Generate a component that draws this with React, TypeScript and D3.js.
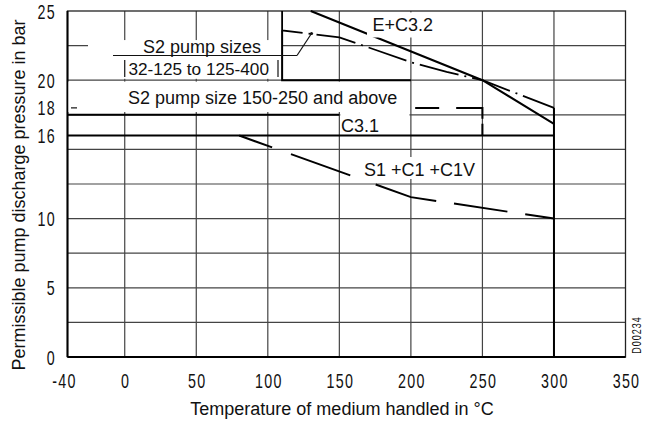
import React from "react";
import * as d3 from "d3";

// values
const xTicks = [-40, 0, 50, 100, 150, 200, 250, 300, 350];
const yTicks = [0, 5, 10, 16, 18, 20, 25];
const gridX = [0, 50, 100, 150, 200, 250, 300];
const gridY = [2.5, 5, 7.5, 10, 12.5, 15, 17.5, 20, 22.5];

const eC32 = [[130, 25], [250, 20], [300, 16.85]];
const s2SmallDashDot = [[110, 25], [110, 23.6], [150, 23.1], [175, 22.2], [200, 21.3], [225, 20.6], [250, 20], [300, 18]];
const s2SmallSolid = [[110, 23.6], [110, 20], [200, 20]];
const s2LargeSolid = [[-40, 17.5], [150, 17.5]];
const s2LargeDashed = [[203, 18], [250, 18], [250, 16]];
const c31 = [[-40, 16], [300, 16]];
const limit300 = [[300, 18], [300, 0]];
const s1C1 = [[80, 16], [200, 11.55], [300, 10]];

const W = 656;
const H = 430;
const FONT = "'Liberation Sans', Arial, sans-serif";

const x = d3.scaleLinear().domain([-40, 350]).range([67.5, 625.5]);
const y = d3.scaleLinear().domain([0, 25]).range([357, 11]);
const line = d3.line<number[]>().x((d) => x(d[0])).y((d) => y(d[1]));

function Cond({ px, py, text, anchor, size = 21, sx = 0.68, ls = 1.9, rotate = 0 }: any) {
  return (
    <text
      transform={`translate(${px},${py}) rotate(${rotate}) scale(${sx},1)`}
      textAnchor={anchor}
      fontSize={size}
      letterSpacing={ls}
      fontFamily={FONT}
      fill="#111"
    >
      {text}
    </text>
  );
}

export default function App() {
  const label = { fontFamily: FONT, fontSize: 18, fill: "#111" };
  return (
    <svg width={W} height={H} style={{ position: "absolute", left: 0, top: 0, background: "#fff" }}>
      {/* grid */}
      {gridX.map((v) => (
        <line key={"gx" + v} x1={x(v)} x2={x(v)} y1={y(0)} y2={y(25)} stroke="#444" strokeWidth={1.2} />
      ))}
      {gridY.map((v) => (
        <line key={"gy" + v} x1={x(-40)} x2={x(350)} y1={y(v)} y2={y(v)} stroke="#444" strokeWidth={1.2} />
      ))}
      {/* frame */}
      <rect x={x(-40)} y={y(25)} width={x(350) - x(-40)} height={y(0) - y(25)} fill="none" stroke="#222" strokeWidth={1.3} />
      <line x1={x(-40)} x2={x(-40)} y1={y(0)} y2={y(25)} stroke="#000" strokeWidth={2} />
      <line x1={x(-40)} x2={x(350)} y1={y(0)} y2={y(0)} stroke="#000" strokeWidth={2} />

      {/* white label backgrounds hiding the grid */}
      <rect x={88} y={y(22.9)} width={194} height={y(20.1) - y(22.9)} fill="#fff" />
      <rect x={x(-40) + 1} y={y(19.9)} width={x(199) - x(-40) - 1} height={y(17.7) - y(19.9)} fill="#fff" />
      <rect x={x(150) + 1} y={y(17.75)} width={x(199) - x(150) - 1} height={y(16.1) - y(17.75)} fill="#fff" />
      <rect x={362} y={157} width={117} height={22} fill="#fff" />

      {/* curves */}
      <path d={line(c31)!} fill="none" stroke="#000" strokeWidth={2} />
      <path d={line(limit300)!} fill="none" stroke="#000" strokeWidth={2} />
      <path d={line(s2LargeSolid)!} fill="none" stroke="#000" strokeWidth={2} />
      <path d={line(s2LargeDashed)!} fill="none" stroke="#000" strokeWidth={2} strokeDasharray="24 17 37 5 30" />
      <path d={line(s2SmallSolid)!} fill="none" stroke="#000" strokeWidth={2} />
      <path d={line(s2SmallDashDot)!} fill="none" stroke="#000" strokeWidth={1.8} strokeDasharray="40 6 2 6" />
      <path d={line(eC32)!} fill="none" stroke="#000" strokeWidth={2} />
      <path d={line(s1C1)!} fill="none" stroke="#000" strokeWidth={2} strokeDasharray="35 20 63 27 63 18 54 18 40" />

      {/* labels */}
      <rect x={367} y={y(24.9)} width={70} height={37.5 - y(24.9)} fill="#fff" />
      <text x={372.5} y={31} {...label}>E+C3.2</text>

      <text x={143} y={53} {...label}>S2 pump sizes</text>
      <line x1={113} x2={297} y1={55.5} y2={55.5} stroke="#111" strokeWidth={1.2} />
      <line x1={297} x2={311.5} y1={55.5} y2={33.5} stroke="#111" strokeWidth={1.2} />
      <circle cx={311.5} cy={33.5} r={1.6} fill="#111" />
      <text x={128.5} y={75} {...label} fontSize={17.2}>32-125 to 125-400</text>
      <line x1={x(0)} x2={x(0)} y1={60} y2={77} stroke="#111" strokeWidth={1.2} />
      <line x1={278} x2={278} y1={60} y2={77} stroke="#111" strokeWidth={1.2} />

      <text x={128} y={104} {...label}>S2 pump size 150-250 and above</text>
      <line x1={71} x2={77} y1={y(18)} y2={y(18)} stroke="#111" strokeWidth={1.2} />
      <text x={341} y={131.5} {...label}>C3.1</text>
      <text x={364} y={176} {...label}>S1 +C1 +C1V</text>

      {/* tick labels */}
      {xTicks.map((v) => (
        <Cond key={"xt" + v} px={x(v) + (v < 0 ? -3 : 1)} py={388} text={String(v)} anchor="middle" />
      ))}
      {yTicks.map((v) => (
        <Cond key={"yt" + v} px={56} py={y(v) + 7.5} text={String(v)} anchor="end" />
      ))}
      <Cond px={641} py={335} text="D00234" anchor="middle" size={12.5} sx={0.72} ls={1.4} rotate={-90} />

      {/* axis titles */}
      <text x={342} y={415} textAnchor="middle" {...label}>Temperature of medium handled in °C</text>
      <text transform={`translate(25,${195}) rotate(-90)`} textAnchor="middle" {...label}>
        Permissible pump discharge pressure in bar
      </text>
    </svg>
  );
}
